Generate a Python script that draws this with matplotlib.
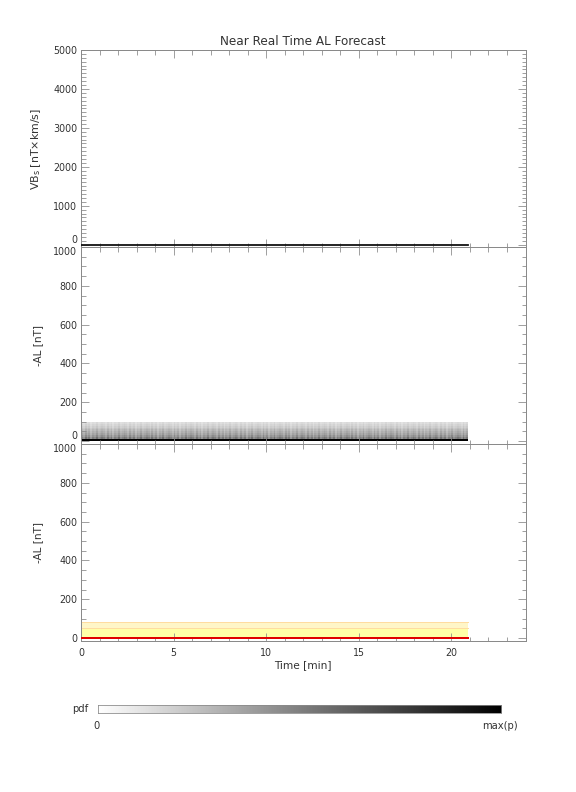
import numpy as np
import matplotlib
matplotlib.use("Agg")
import matplotlib.pyplot as plt
from matplotlib.colors import LinearSegmentedColormap
from matplotlib.ticker import MultipleLocator

# ---------------- data ----------------
t_end = 20.9                       # last forecast time [min]
vbs_time = [0.0, t_end]
vbs_values = [0.0, 0.0]            # VBs [nT km/s]

# pdf of -AL (relative to max) in bins from 0 to ~100 nT
al_bin_edges = [0, 12, 20, 30, 40, 50, 60, 70, 80, 90, 100]
pdf_levels = [1.0, 0.50, 0.42, 0.36, 0.32, 0.28, 0.24, 0.20, 0.17, 0.14]
# column-to-column modulation of the pdf (repeating stripe pattern)
stripe_factors = [1.0, 0.85, 1.1, 0.9, 1.05, 0.8, 1.0, 0.92, 1.12, 0.88, 0.97, 1.08]
time_step = 0.1

# percentile bands of the forecast -AL [nT]
band_time = [0.0, t_end]
band_outer = [85.0, 85.0]
band_inner = [52.0, 52.0]
median_al = [0.0, 0.0]

# ---------------- style ----------------
plt.rcParams['font.family'] = ['DejaVu Sans']
plt.rcParams['font.size'] = 9.5
text_c = '#333333'
axis_c = '#8a8a8a'

fig = plt.figure(figsize=(8, 11), dpi=72)
L, W, H = 81/576, (525.5-81)/576, 197/792
ax1 = fig.add_axes([L, 1-247/792, W, H])
ax2 = fig.add_axes([L, 1-444/792, W, H])
ax3 = fig.add_axes([L, 1-641/792, W, H])

def style(ax, ymaj, ymin_, show_x):
    for s in ax.spines.values():
        s.set_color(axis_c)
        s.set_linewidth(1.0)
    ax.set_xlim(0, 24)
    ax.xaxis.set_major_locator(MultipleLocator(5))
    ax.xaxis.set_minor_locator(MultipleLocator(1))
    ax.yaxis.set_major_locator(MultipleLocator(ymaj))
    ax.yaxis.set_minor_locator(MultipleLocator(ymin_))
    ax.tick_params(which='both', direction='in', top=True, right=True,
                   color=axis_c, labelcolor=text_c, labelsize=9.5)
    ax.tick_params(which='major', length=8, width=0.8)
    ax.tick_params(which='minor', length=4.5, width=0.8)
    ax.tick_params(axis='y', pad=4)
    ax.tick_params(axis='x', pad=7)
    if not show_x:
        ax.tick_params(axis='x', labelbottom=False)

# top panel
ax1.plot(vbs_time, vbs_values, color='#111111', lw=1.8, zorder=3)
ax1.set_ylim(-60, 5000)
style(ax1, 1000, 100, False)
ax1.set_ylabel(r'VB$_\mathrm{s}$ [nT$\times$km/s]', color=text_c, labelpad=10, fontsize=11)
ax1.set_title('Near Real Time AL Forecast', color=text_c, fontsize=12, pad=5)

# middle panel: pdf image
t_edges = np.arange(0, t_end + time_step/2, time_step)
ncol = len(t_edges) - 1
fac = np.array([stripe_factors[i % len(stripe_factors)] for i in range(ncol)])
pdf = np.array(pdf_levels)[:, None] * fac[None, :]
pdf[0, :] = 1.0
cmap = LinearSegmentedColormap.from_list('g', ['#ffffff', '#000000'])
ax2.pcolormesh(t_edges, al_bin_edges, np.clip(pdf, 0, 1), cmap=cmap,
               vmin=0, vmax=1, shading='flat', zorder=1)
ax2.set_ylim(-15, 1000)
style(ax2, 200, 50, False)
ax2.set_ylabel('-AL [nT]', color=text_c, labelpad=10, fontsize=10.5)

# bottom panel: forecast bands
ax3.fill_between(band_time, band_inner, band_outer, color='#fff6c8', lw=0, zorder=1)
ax3.fill_between(band_time, median_al, band_inner, color='#ffffa8', lw=0, zorder=1)
ax3.plot(band_time, band_outer, color='#ffdca0', lw=1.0, zorder=2)
ax3.plot(band_time, band_inner, color='#ffdca0', lw=1.0, zorder=2)
ax3.plot(band_time, median_al, color='#e00000', lw=2.0, zorder=3)
ax3.set_ylim(-15, 1000)
style(ax3, 200, 50, True)
ax3.set_ylabel('-AL [nT]', color=text_c, labelpad=10, fontsize=10.5)
ax3.set_xlabel('Time [min]', color=text_c, labelpad=2, fontsize=10.5)

# IDL-like placement of the edge tick labels so neighbouring panels don't clash
fig.canvas.draw()
for ax in (ax2, ax3):
    for lab in ax.get_yticklabels():
        if lab.get_text() in ('1000', '1,000', '1\u2009000'):
            lab.set_verticalalignment('top')
for ax in (ax1, ax2):
    for lab in ax.get_yticklabels():
        if lab.get_text() == '0':
            lab.set_verticalalignment('bottom')

# colorbar
cax = fig.add_axes([98/576, 1-713/792, 403/576, 8/792])
grad = np.linspace(0, 1, 256)[None, :]
cax.imshow(grad, aspect='auto', cmap=cmap, extent=[0, 1, 0, 1])
cax.set_xticks([]); cax.set_yticks([])
for s in cax.spines.values():
    s.set_color(axis_c); s.set_linewidth(0.8)
fig.text(80/576, 1-709/792, 'pdf', ha='center', va='center', color=text_c, fontsize=10)
fig.text(97/576, 1-726/792, '0', ha='center', va='center', color=text_c, fontsize=10)
fig.text(500/576, 1-726/792, 'max(p)', ha='center', va='center', color=text_c, fontsize=10)

fig.savefig('out.png', dpi=72)
